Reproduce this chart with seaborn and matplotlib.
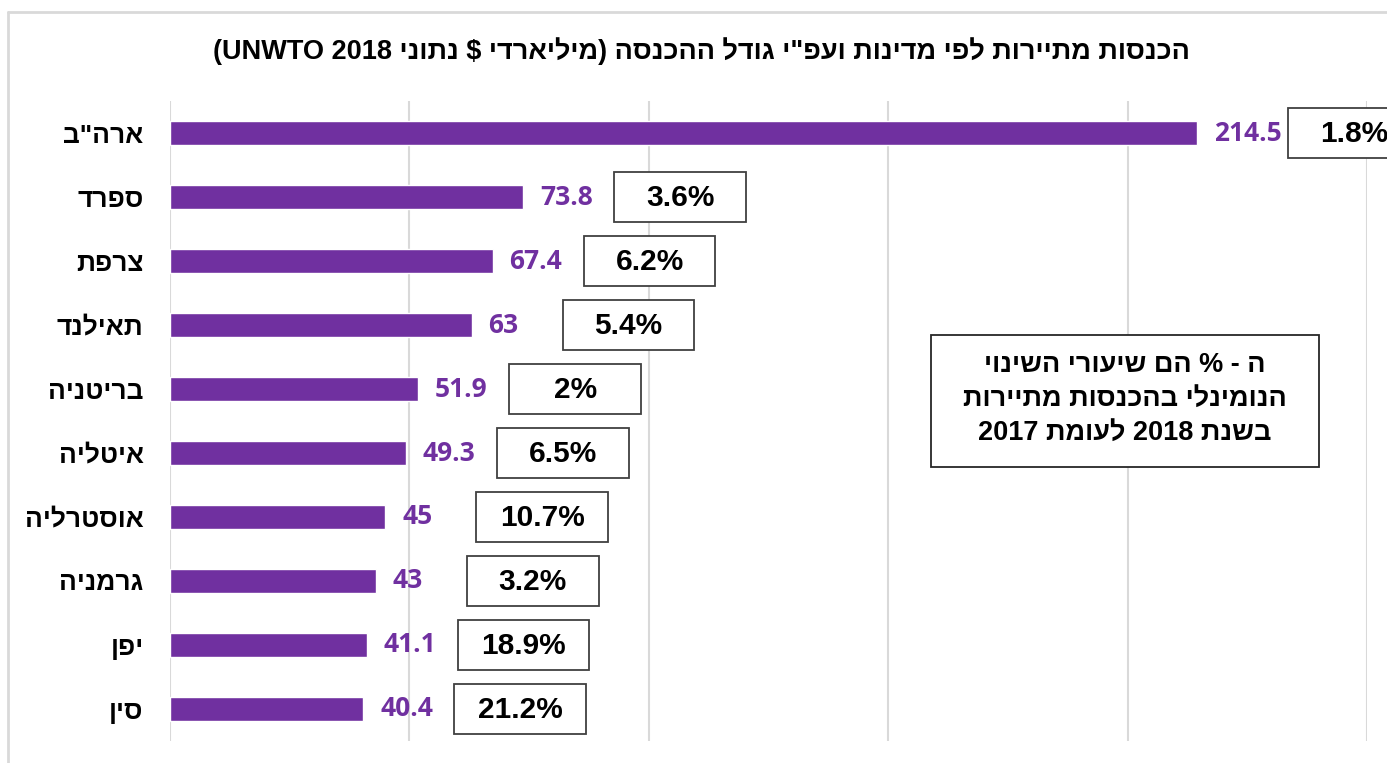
import re
import pandas as pd
import matplotlib
matplotlib.use("Agg")
import matplotlib.pyplot as plt
from matplotlib.patches import Rectangle
from matplotlib.lines import Line2D
import seaborn as sns

# data (billions $, UNWTO 2018)
countries = ['ארה"ב', "ספרד", "צרפת", "תאילנד", "בריטניה", "איטליה", "אוסטרליה", "גרמניה", "יפן", "סין"]
revenue = [214.5, 73.8, 67.4, 63, 51.9, 49.3, 45, 43, 41.1, 40.4]
change_pct = ["1.8%", "3.6%", "6.2%", "5.4%", "2%", "6.5%", "10.7%", "3.2%", "18.9%", "21.2%"]
x_ticks = [0, 50, 100, 150, 200, 250]

title = 'הכנסות מתיירות לפי מדינות ועפ"י גודל ההכנסה (מיליארדי $ נתוני UNWTO 2018)'
note_lines = ["ה - % הם שיעורי השינוי", "הנומינלי בהכנסות מתיירות", "בשנת 2018 לעומת 2017"]

PURPLE = "#7030A0"
GRID = "#D9D9D9"
HEB = ["Liberation Sans", "DejaVu Sans"]


def rtl(s):
    # matplotlib has no bidi support: turn a logical RTL string into visual order
    s = s[::-1]
    s = re.sub(r"[A-Za-z0-9][A-Za-z0-9 .]*[A-Za-z0-9]", lambda m: m.group(0)[::-1], s)
    return s.translate(str.maketrans("()", ")("))


df = pd.DataFrame({"country": [rtl(c) for c in countries], "revenue": revenue})

sns.set_style("white")
plt.rcParams["text.color"] = "black"
fig = plt.figure(figsize=(13.87, 7.63), dpi=100)
ax = fig.add_axes([170 / 1387, 22 / 763, 1197 / 1387, 640 / 763])

sns.barplot(data=df, x="revenue", y="country", color=PURPLE, width=0.375,
            saturation=1, ax=ax, zorder=3)

ax.set_xlim(0, 250)
ax.set_xticks(x_ticks)
ax.set_xticklabels([])
ax.xaxis.grid(True, color=GRID, linewidth=1.5, zorder=0)
ax.tick_params(axis="both", length=0)
ax.tick_params(axis="y", pad=19)
for lab in ax.get_yticklabels():
    lab.set_fontfamily(HEB)
    lab.set_fontweight("bold")
    lab.set_fontsize(19)
    lab.set_color("black")
ax.set_xlabel("")
ax.set_ylabel("")
for sp in ax.spines.values():
    sp.set_visible(False)

# value labels and % change boxes
box_gap, box_w, box_h = 19.0, 27.5, 0.78
for i, (v, p) in enumerate(zip(revenue, change_pct)):
    ax.annotate(f"{v:g}", (v, i), xytext=(12, 0), textcoords="offset points",
                va="center", ha="left", color=PURPLE, fontsize=19,
                fontweight="bold", family="Open Sans")
    ax.add_patch(Rectangle((v + box_gap, i - box_h / 2), box_w, box_h,
                           facecolor="white", edgecolor="#404040", linewidth=1.3,
                           clip_on=False, zorder=4))
    ax.text(v + box_gap + box_w / 2, i + 0.02, p, ha="center", va="center",
            fontsize=21.5, fontweight="bold", family=HEB, color="black",
            clip_on=False, zorder=5)

# title
fig.text(0.506, 0.933, rtl(title), ha="center", va="center", fontsize=19.5,
         fontweight="bold", family=HEB, color="black")

# explanatory note
fig.patches.append(Rectangle((931 / 1387, 1 - 467 / 763), 388 / 1387, 132 / 763,
                             transform=fig.transFigure, facecolor="white",
                             edgecolor="#262626", linewidth=1.3, zorder=4))
fig.text(1125 / 1387, 1 - 399 / 763, "\n".join(rtl(l) for l in note_lines),
         ha="center", va="center", fontsize=19.5, fontweight="bold", family=HEB,
         color="black", linespacing=1.4, zorder=5)

# outer chart border (left and top only visible)
fig.lines.append(Line2D([8 / 1387, 8 / 1387], [0, 1 - 12 / 763], transform=fig.transFigure,
                        color=GRID, linewidth=2))
fig.lines.append(Line2D([8 / 1387, 1], [1 - 12 / 763, 1 - 12 / 763], transform=fig.transFigure,
                        color=GRID, linewidth=2))

fig.savefig("out.png", dpi=100)
